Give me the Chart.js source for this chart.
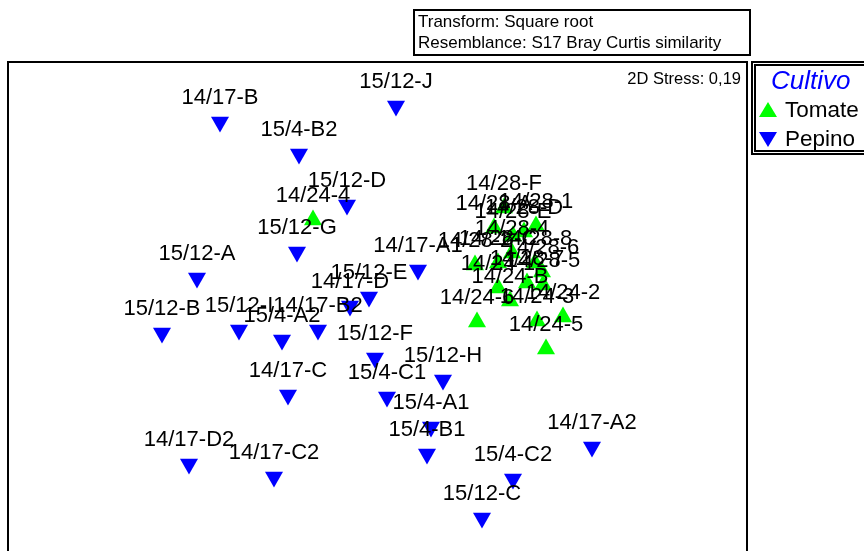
<!DOCTYPE html>
<html>
<head>
<meta charset="utf-8">
<script src="https://cdn.jsdelivr.net/npm/chart.js@4"></script>
<style>
  html, body { margin: 0; padding: 0; background: #fff; overflow: hidden; }
  body { width: 864px; height: 551px; position: relative; font-family: "Liberation Sans", Arial, sans-serif; color: #000; }
  #plot { position: absolute; left: 0; top: 0; }
  .abs { position: absolute; white-space: nowrap; }
  #frame { left: 7px; top: 61px; width: 737px; height: 700px; border: 2px solid #000; }
  #info { left: 413px; top: 9px; width: 331px; height: 43px; border: 2px solid #000; font-size: 17px; line-height: 21px; padding-left: 3px; box-sizing: content-box; }
  #legend { left: 751px; top: 61px; width: 130px; height: 84px; border: 5px double #000; }
  .tri-up { width: 0; height: 0; border-left: 9px solid transparent; border-right: 9px solid transparent; border-bottom: 15px solid #00ff00; }
  .tri-down { width: 0; height: 0; border-left: 9px solid transparent; border-right: 9px solid transparent; border-top: 15px solid #0000ff; }
</style>
</head>
<body>
<canvas id="plot" width="864" height="551"></canvas>
<div id="frame" class="abs"></div>
<div id="info" class="abs">Transform: Square root<br>Resemblance: S17 Bray Curtis similarity</div>
<div class="abs" style="right:123px; top:69px; font-size:16.5px;">2D Stress: 0,19</div>
<div id="legend" class="abs"></div>
<div class="abs" style="left:771px; top:65px; font-size:26px; font-style:italic; color:#0000ff;">Cultivo</div>
<div class="abs tri-up" style="left:759px; top:102px;"></div>
<div class="abs" style="left:785px; top:97px; font-size:22.5px;">Tomate</div>
<div class="abs tri-down" style="left:759px; top:132px;"></div>
<div class="abs" style="left:785px; top:126px; font-size:22.5px;">Pepino</div>
<script>
// nMDS ordination, sample names and coordinates
const tomateNames = ['14/24-4', '14/28-F', '14/28-A', '14/28-1', '14/28-D', '14/28-E', '14/28-4', '14/28-2',
  '14/28-C', '14/28-8', '14/28-6', '14/28-7', '14/28-5', '14/24-1', '14/24-B', '14/24-6', '14/24-3', '14/24-2', '14/24-5'];
const tomateX = [-0.33, 0.625, 0.575, 0.785, 0.725, 0.67, 0.665, 0.48,
  0.595, 0.78, 0.815, 0.74, 0.82, 0.595, 0.655, 0.49, 0.79, 0.92, 0.835];
const tomateY = [0.435, 0.495, 0.395, 0.405, 0.375, 0.355, 0.27, 0.21,
  0.22, 0.22, 0.175, 0.12, 0.11, 0.095, 0.03, -0.075, -0.07, -0.05, -0.21];

const pepinoNames = ['14/17-B', '15/12-J', '15/4-B2', '15/12-D', '15/12-G', '15/12-A', '14/17-A1', '15/12-E',
  '14/17-D', '15/12-B', '15/12-I', '14/17-B2', '15/4-A2', '15/12-F', '15/12-H', '15/4-C1', '14/17-C',
  '15/4-A1', '15/4-B1', '14/17-A2', '15/4-C2', '15/12-C', '14/17-D2', '14/17-C2'];
const pepinoX = [-0.795, 0.085, -0.40, -0.16, -0.41, -0.91, 0.195, -0.05,
  -0.145, -1.085, -0.70, -0.305, -0.485, -0.02, 0.32, 0.04, -0.455,
  0.26, 0.24, 1.065, 0.67, 0.515, -0.95, -0.525];
const pepinoY = [0.925, 1.005, 0.765, 0.51, 0.275, 0.145, 0.185, 0.05,
  0.005, -0.13, -0.115, -0.115, -0.165, -0.255, -0.365, -0.45, -0.44,
  -0.60, -0.735, -0.70, -0.86, -1.055, -0.785, -0.85];

const pts = (xs, ys) => xs.map((x, i) => ({ x, y: ys[i] }));

// sample names above each symbol
const pointLabels = {
  id: 'pointLabels',
  afterDatasetsDraw(chart) {
    const ctx = chart.ctx;
    ctx.save();
    ctx.font = '22px "Liberation Sans", Arial, sans-serif';
    ctx.fillStyle = '#000';
    ctx.textAlign = 'center';
    ctx.textBaseline = 'alphabetic';
    chart.data.datasets.forEach((ds, di) => {
      chart.getDatasetMeta(di).data.forEach((el, i) => {
        ctx.fillText(ds.names[i], el.x, el.y - 18);
      });
    });
    ctx.restore();
  },
};

new Chart(document.getElementById('plot'), {
  type: 'scatter',
  data: {
    datasets: [
      { label: 'Tomate', names: tomateNames, data: pts(tomateX, tomateY), pointStyle: 'triangle', rotation: 0,
        pointRadius: 10.4, borderWidth: 0, backgroundColor: '#00ff00' },
      { label: 'Pepino', names: pepinoNames, data: pts(pepinoX, pepinoY), pointStyle: 'triangle', rotation: 180,
        pointRadius: 10.4, borderWidth: 0, backgroundColor: '#0000ff' },
    ],
  },
  options: {
    responsive: false,
    animation: false,
    devicePixelRatio: 1,
    layout: { autoPadding: false, padding: { left: 10, right: 116, top: 63, bottom: 0 } },
    plugins: { legend: { display: false }, tooltip: { enabled: false } },
    scales: {
      x: { display: false, min: -1.845, max: 1.845 },
      y: { display: false, min: -1.22, max: 1.22 },
    },
  },
  plugins: [pointLabels],
});
</script>
</body>
</html>
